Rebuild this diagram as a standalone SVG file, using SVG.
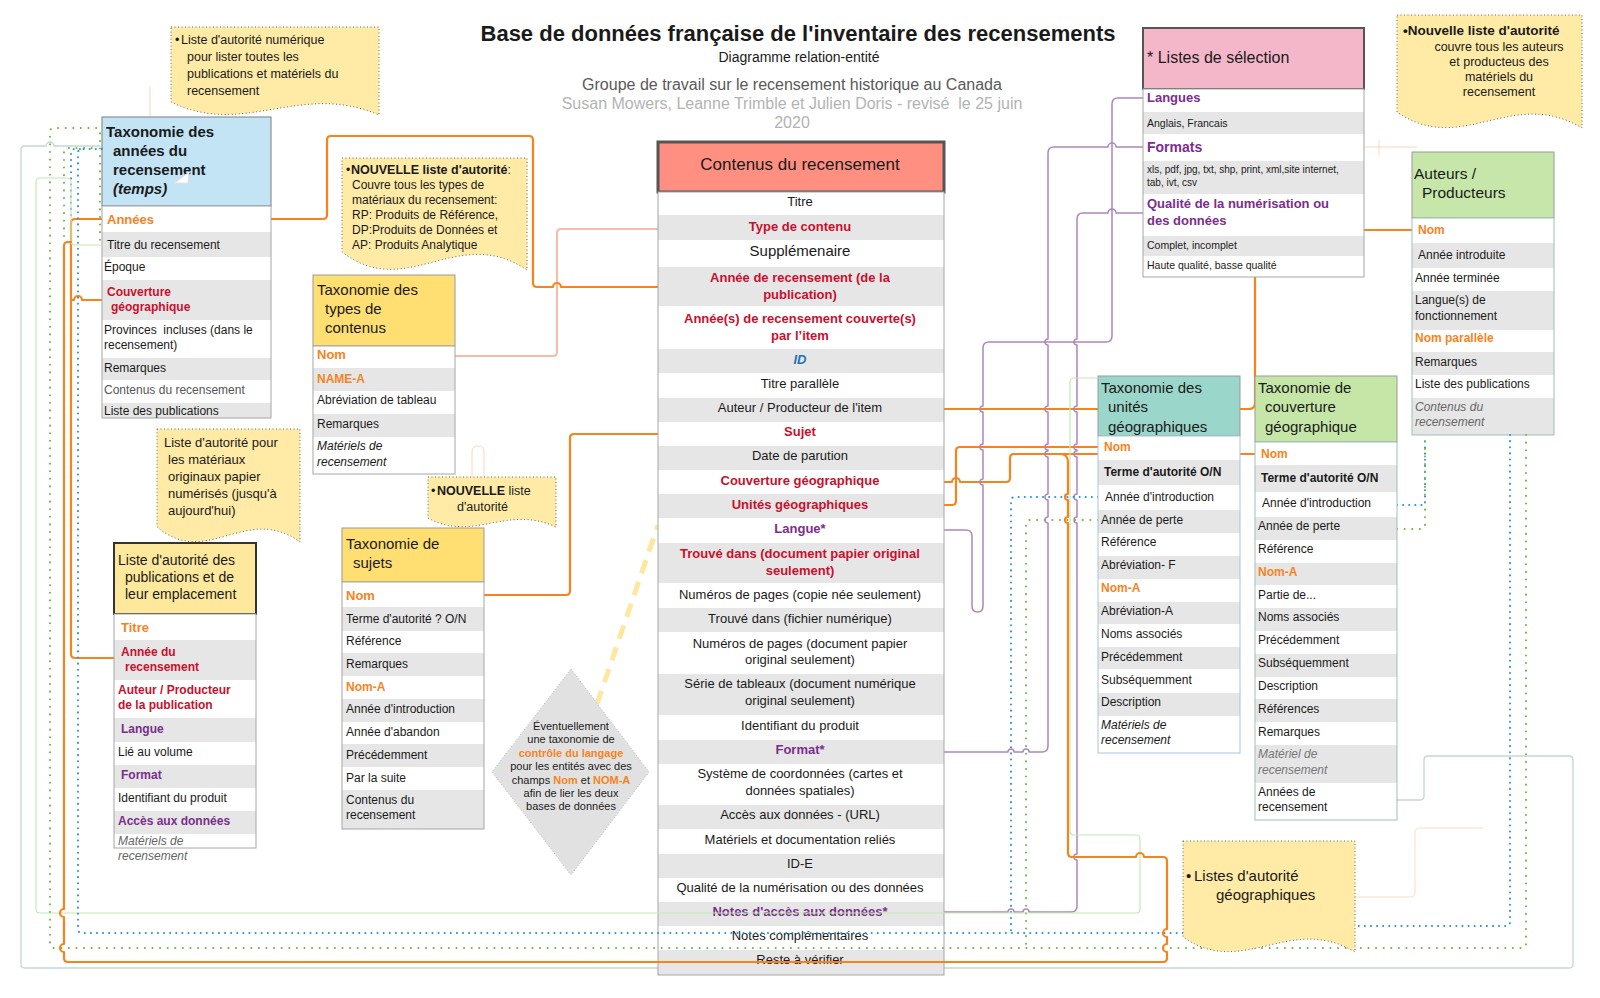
<svg xmlns="http://www.w3.org/2000/svg" width="1600" height="998" viewBox="0 0 1600 998">
<defs>
<style>
text{font-family:"Liberation Sans",Arial,sans-serif;fill:#1a1a1a;font-size:12px}
.s11{font-size:11.5px}
.s13{font-size:13px}
.s15{font-size:15px}
.mid{text-anchor:middle}
.b{font-weight:bold}
.it{font-style:italic}
.or{fill:#f5841f;font-weight:bold}
.rd{fill:#c8102e;font-weight:bold}
.pu{fill:#7b2d8e;font-weight:bold}
.muted{fill:#666;font-style:italic}
.band{fill:#e6e6e6}
.bg{fill:#fff}
.frame{fill:none;stroke:#a6a6a6;stroke-width:1}
.note{fill:#ffeaa6;stroke:#666;stroke-width:1;stroke-dasharray:1 2.5}
.ln{fill:none;stroke-linejoin:round;stroke-linecap:round}
.org{stroke:#f5841f;stroke-width:2.2}
.sal{stroke:#f5bca9;stroke-width:2}
.pur{stroke:#ad87bd;stroke-width:1.5}
.blu{stroke:#2b8fd9;stroke-width:2;stroke-dasharray:0.1 6}
.grn{stroke:#72b53c;stroke-width:2;stroke-dasharray:0.1 7.5}
.lgr{stroke:#c3e8b4;stroke-width:1.2}
.lgy{stroke:#c5d6d2;stroke-width:1.3}
.fnt{stroke:#f9d6bd;stroke-width:1}
</style>
</defs>
<rect width="1600" height="998" fill="#fff"/>

<!-- title block -->
<g id="title">
<text x="798" y="41" class="mid b" style="font-size:22px">Base de données française de l'inventaire des recensements</text>
<text x="799" y="62" class="mid" style="font-size:14px">Diagramme relation-entité</text>
<text x="792" y="90" class="mid" style="fill:#595959;font-size:16px">Groupe de travail sur le recensement historique au Canada</text>
<text x="792" y="109" class="mid" style="fill:#b3b3b3;font-size:16px" xml:space="preserve">Susan Mowers, Leanne Trimble et Julien Doris - revisé  le 25 juin</text>
<text x="792" y="128" class="mid" style="fill:#b3b3b3;font-size:16px">2020</text>
</g>

<!-- connectors drawn beneath the tables -->
<g id="connectors">
<path class="ln fnt" d="M150,87 V117"/>
<path class="ln fnt" d="M1364,147 H1417 M1379,140 V155"/>
<path class="ln fnt" stroke-dasharray="1 1" d="M1355,897 H1410 Q1415,897 1415,892 V833 Q1415,828 1420,828 H1483"/>
<path class="ln fnt" d="M472,477 V452 Q472,446 478,446 Q484,446 484,452 V477"/>
<path class="ln lgy" d="M1397,800 H1420 Q1424,800 1424,796 V760 Q1424,756 1428,756 H1569 Q1573,756 1573,760 V964 Q1573,968 1569,968 H25 Q21,968 21,964 V150 Q21,146 25,146 H46 A4,4 0 0 1 54,146 H100"/>
<path class="ln sal" d="M455,356 H553 Q557,356 557,352 V233 Q557,229 561,229 H658"/>
<path class="ln org" d="M271,219 H323 Q327,219 327,215 V140 Q327,136 331,136 H529 Q533,136 533,140 V283 Q533,287 537,287 H553 A4,4 0 0 1 561,287 H658"/>
<path class="ln org" d="M484,595 H566 Q570,595 570,591 V438 Q570,434 574,434 H658"/>
<path class="ln org" d="M102,219 H75 Q71,219 71,223 V654 Q71,658 75,658 H114"/>
<path class="ln org" d="M102,300 H82 A4,4 0 0 0 74,300 H71"/>
<path class="ln org" d="M944,409 H1249 Q1255,409 1255,403 V234 Q1255,230 1259,230 H1412"/>
<path class="ln org" d="M944,505 H952 Q956,505 956,501 V451 Q956,447 960,447 H1098"/>
<path class="ln org" d="M944,482 H952 A4,4 0 0 1 960,482 H1006 Q1010,482 1010,478 V458 Q1010,454 1014,454 H1255"/>
<path class="ln pur" d="M944,530 H966 Q972,530 972,536 V606 Q972,612 977.5,612 Q983,612 983,606 V485 A3,3 0 0 1 983,479 V450 A3,3 0 0 1 983,444 V412 A3,3 0 0 1 983,406 V348 Q983,342 989,342 H1106 Q1112,342 1112,336 V104 Q1112,98 1118,98 H1143"/>
<path class="ln pur" d="M1143,147 H1116 A4,4 0 0 0 1108,147 H1054 Q1048,147 1048,153 V339 A3,3 0 0 0 1048,345 V406 A3,3 0 0 0 1048,412 V444 A3,3 0 0 0 1048,450 V451 A3,3 0 0 0 1048,457 V494 A3,3 0 0 0 1048,500 V517 A3,3 0 0 0 1048,523 V746 Q1048,752 1042,752 H1029 A3,3 0 0 0 1023,752 H1014 A3,3 0 0 0 1008,752 H944"/>
<path class="ln pur" d="M1143,213 H1116 A4,4 0 0 0 1108,213 H1083 Q1077,213 1077,219 V339 A3,3 0 0 0 1077,345 V406 A3,3 0 0 0 1077,412 V444 A3,3 0 0 0 1077,450 V451 A3,3 0 0 0 1077,457 V494 A3,3 0 0 0 1077,500 V517 A3,3 0 0 0 1077,523 V854 A3,3 0 0 0 1077,860 V906 Q1077,912 1071,912 H1029 A3,3 0 0 0 1023,912 H1014 A3,3 0 0 0 1008,912 H944"/>
<path class="ln blu" d="M1098,497 H1015 Q1011,497 1011,501 V933"/>
<path class="ln blu" d="M1397,505 H1425 V440"/>
<path class="ln blu" d="M71,215 V153 Q71,149 75,149 H80"/>
<path class="ln grn" d="M1098,520 H1030 Q1026,520 1026,524 V948"/>
<path class="ln grn" d="M1397,529 H1421 Q1425,529 1425,525 V440"/>
<path class="ln grn" d="M64,236 V152 Q64,148 68,148 H98"/>
<path stroke="#ffe7a0" stroke-width="5" stroke-dasharray="14 9" fill="none" d="M597,704 L658,525"/>
</g>

<!-- note: numeric authority list -->
<g id="note-liste-numerique">
<path class="note" d="M171,27 H379 V115 C300,81 244,138 171,102 Z"/>
<text style="font-size:12.5px"><tspan x="175" y="44">•</tspan><tspan x="181" y="44">Liste d'autorité numérique</tspan><tspan x="187" y="61">pour lister toutes les</tspan><tspan x="187" y="78">publications et matériels du</tspan><tspan x="187" y="95">recensement</tspan></text>
</g>

<!-- census years taxonomy -->
<g id="taxo-annees">
<rect x="102" y="117" width="169" height="89" fill="#c3e4f5" stroke="#7f7f7f"/>
<text class="b s15"><tspan x="106" y="137">Taxonomie des</tspan><tspan x="113" y="156">années du</tspan><tspan x="113" y="175">recensement</tspan><tspan x="113" y="194" font-style="italic">(temps)</tspan></text>
<polygon points="175,183 189,172 188,183" fill="#fff" stroke="#e3e3e3"/>
<rect class="bg" x="102" y="206" width="169" height="212"/>
<rect class="band" x="102" y="232" width="169" height="25"/>
<rect class="band" x="102" y="280" width="169" height="40"/>
<rect class="band" x="102" y="358" width="169" height="22"/>
<rect class="band" x="102" y="403" width="169" height="15"/>
<rect class="frame" x="102" y="206" width="169" height="212"/>
<text x="107" y="224" class="or s13">Années</text>
<text x="107" y="249">Titre du recensement</text>
<text x="104" y="271">Époque</text>
<text class="rd"><tspan x="107" y="296">Couverture</tspan><tspan x="111" y="311">géographique</tspan></text>
<text xml:space="preserve"><tspan x="104" y="334">Provinces  incluses (dans le</tspan><tspan x="104" y="349">recensement)</tspan></text>
<text x="104" y="372">Remarques</text>
<text x="104" y="394" style="fill:#555">Contenus du recensement</text>
<text x="104" y="415">Liste des publications</text>
</g>

<!-- note: new authority list for content types -->
<g id="note-types">
<path class="note" d="M342,158 H527 V270 C457,223 407,302 342,252 Z"/>
<text><tspan x="346" y="174">•</tspan><tspan x="351" y="174" class="b" style="font-size:12.5px">NOUVELLE liste d'autorité</tspan><tspan>:</tspan><tspan x="352" y="189">Couvre tous les types de</tspan><tspan x="352" y="204">matériaux du recensement:</tspan><tspan x="352" y="219">RP: Produits de Référence,</tspan><tspan x="352" y="234">DP:Produits de Données et</tspan><tspan x="352" y="249">AP: Produits Analytique</tspan></text>
</g>

<!-- content types taxonomy -->
<g id="taxo-types">
<rect x="313" y="275" width="142" height="71" fill="#ffdf71" stroke="#9a9a9a"/>
<text class="s15"><tspan x="317" y="295">Taxonomie des</tspan><tspan x="325" y="314">types de</tspan><tspan x="325" y="333">contenus</tspan></text>
<rect class="bg" x="313" y="346" width="142" height="128"/>
<rect class="band" x="313" y="368" width="142" height="23"/>
<rect class="band" x="313" y="414" width="142" height="23"/>
<rect class="frame" x="313" y="346" width="142" height="128"/>
<text x="317" y="359" class="or s13">Nom</text>
<text x="317" y="383" class="or">NAME-A</text>
<text x="317" y="404">Abréviation de tableau</text>
<text x="317" y="428">Remarques</text>
<text class="it"><tspan x="317" y="450">Matériels de</tspan><tspan x="317" y="466">recensement</tspan></text>
</g>

<!-- note: digitised paper originals -->
<g id="note-papier">
<path class="note" d="M157,429 H300 V542 C246,503 207,569 157,527 Z"/>
<text class="s13"><tspan x="164" y="447">Liste d'autorité pour</tspan><tspan x="168" y="464">les matériaux</tspan><tspan x="168" y="481">originaux papier</tspan><tspan x="168" y="498">numérisés (jusqu'à</tspan><tspan x="168" y="515">aujourd'hui)</tspan></text>
</g>

<!-- publications authority list -->
<g id="liste-publications">
<rect x="114" y="543" width="142" height="71" fill="#fee89c" stroke="#333" stroke-width="2"/>
<text style="font-size:14px"><tspan x="118" y="565">Liste d'autorité des</tspan><tspan x="125" y="582">publications et de</tspan><tspan x="125" y="599">leur emplacement</tspan></text>
<rect class="bg" x="114" y="614" width="142" height="234"/>
<rect class="band" x="114" y="640" width="142" height="40"/>
<rect class="band" x="114" y="718" width="142" height="24"/>
<rect class="band" x="114" y="765" width="142" height="23"/>
<rect class="band" x="114" y="811" width="142" height="23"/>
<rect class="frame" x="114" y="614" width="142" height="234"/>
<text x="121" y="632" class="or s13">Titre</text>
<text class="rd"><tspan x="121" y="656">Année du</tspan><tspan x="125" y="671">recensement</tspan></text>
<text class="rd"><tspan x="118" y="694">Auteur / Producteur</tspan><tspan x="118" y="709">de la publication</tspan></text>
<text x="121" y="733" class="pu">Langue</text>
<text x="118" y="756">Lié au volume</text>
<text x="121" y="779" class="pu">Format</text>
<text x="118" y="802">Identifiant du produit</text>
<text x="118" y="825" class="pu">Accès aux données</text>
<text class="muted"><tspan x="118" y="845">Matériels de</tspan><tspan x="118" y="860">recensement</tspan></text>
</g>

<!-- note: new authority list for subjects -->
<g id="note-sujets">
<path class="note" d="M428,477 H556 V527 C507,504 473,543 428,518 Z"/>
<text style="font-size:12.5px"><tspan x="431" y="495">•</tspan><tspan x="437" y="495" class="b">NOUVELLE</tspan><tspan> liste</tspan><tspan x="457" y="511">d'autorité</tspan></text>
</g>

<!-- subjects taxonomy -->
<g id="taxo-sujets">
<rect x="342" y="528" width="142" height="54" fill="#ffdf71" stroke="#9a9a9a"/>
<text class="s15"><tspan x="346" y="549">Taxonomie de</tspan><tspan x="353" y="568">sujets</tspan></text>
<rect class="bg" x="342" y="582" width="142" height="247"/>
<rect class="band" x="342" y="607" width="142" height="24"/>
<rect class="band" x="342" y="653" width="142" height="23"/>
<rect class="band" x="342" y="699" width="142" height="23"/>
<rect class="band" x="342" y="744" width="142" height="23"/>
<rect class="band" x="342" y="790" width="142" height="39"/>
<rect class="frame" x="342" y="582" width="142" height="247"/>
<text x="346" y="600" class="or s13">Nom</text>
<text x="346" y="623">Terme d'autorité ? O/N</text>
<text x="346" y="645">Référence</text>
<text x="346" y="668">Remarques</text>
<text x="346" y="691" class="or">Nom-A</text>
<text x="346" y="713">Année d'introduction</text>
<text x="346" y="736">Année d'abandon</text>
<text x="346" y="759">Précédemment</text>
<text x="346" y="782">Par la suite</text>
<text><tspan x="346" y="804">Contenus du</tspan><tspan x="346" y="819">recensement</tspan></text>
</g>

<!-- language control remark -->
<g id="controle-langage">
<polygon points="571,669 649,772 571,875 492,772" fill="#e1e1e1" stroke="#b5b5b5" stroke-dasharray="1 2"/>
<text class="mid" style="font-size:11px"><tspan x="571" y="730">Éventuellement</tspan><tspan x="571" y="743">une taxonomie de</tspan><tspan x="571" y="757" class="or">contrôle du langage</tspan><tspan x="571" y="770">pour les entités avec des</tspan><tspan x="571" y="784">champs <tspan class="or">Nom</tspan> et <tspan class="or">NOM-A</tspan></tspan><tspan x="571" y="797">afin de lier les deux</tspan><tspan x="571" y="810">bases de données</tspan></text>
</g>

<!-- central entity -->
<g id="contenus-recensement">
<rect x="658" y="142" width="286" height="50" fill="#ff8f80" stroke="#555" stroke-width="3"/>
<text x="800" y="170" class="mid" style="font-size:17px">Contenus du recensement</text>
<rect class="bg" x="658" y="192" width="286" height="783"/>
<rect class="band" x="658" y="215" width="286" height="25"/>
<rect class="band" x="658" y="267" width="286" height="39"/>
<rect class="band" x="658" y="349" width="286" height="24"/>
<rect class="band" x="658" y="398" width="286" height="24"/>
<rect class="band" x="658" y="446" width="286" height="24"/>
<rect class="band" x="658" y="494" width="286" height="24"/>
<rect class="band" x="658" y="543" width="286" height="40"/>
<rect class="band" x="658" y="608" width="286" height="24"/>
<rect class="band" x="658" y="674" width="286" height="41"/>
<rect class="band" x="658" y="740" width="286" height="24"/>
<rect class="band" x="658" y="805" width="286" height="24"/>
<rect class="band" x="658" y="854" width="286" height="24"/>
<rect class="band" x="658" y="902" width="286" height="24"/>
<rect class="band" x="658" y="950" width="286" height="25"/>
<rect class="frame" x="658" y="192" width="286" height="783"/>
<text x="800" y="206" class="mid s13">Titre</text>
<text x="800" y="231" class="mid s13 rd">Type de contenu</text>
<text x="800" y="256" class="mid s15">Supplémenaire</text>
<text class="mid s13 rd"><tspan x="800" y="282">Année de recensement (de la</tspan><tspan x="800" y="299">publication)</tspan></text>
<text class="mid s13 rd"><tspan x="800" y="323">Année(s) de recensement couverte(s)</tspan><tspan x="800" y="340">par l’item</tspan></text>
<text x="800" y="364" class="mid s13 b it" style="fill:#2472b8">ID</text>
<text x="800" y="388" class="mid s13">Titre parallèle</text>
<text x="800" y="412" class="mid s13">Auteur / Producteur de l'item</text>
<text x="800" y="436" class="mid s13 rd">Sujet</text>
<text x="800" y="460" class="mid s13">Date de parution</text>
<text x="800" y="485" class="mid s13 rd">Couverture géographique</text>
<text x="800" y="509" class="mid s13 rd">Unités géographiques</text>
<text x="800" y="533" class="mid s13 pu">Langue*</text>
<text class="mid s13 rd"><tspan x="800" y="558">Trouvé dans (document papier original</tspan><tspan x="800" y="575">seulement)</tspan></text>
<text x="800" y="599" class="mid s13">Numéros de pages (copie née seulement)</text>
<text x="800" y="623" class="mid s13">Trouvé dans (fichier numérique)</text>
<text class="mid s13"><tspan x="800" y="648">Numéros de pages (document papier</tspan><tspan x="800" y="664">original seulement)</tspan></text>
<text class="mid s13"><tspan x="800" y="688">Série de tableaux (document numérique</tspan><tspan x="800" y="705">original seulement)</tspan></text>
<text x="800" y="730" class="mid s13">Identifiant du produit</text>
<text x="800" y="754" class="mid s13 pu">Format*</text>
<text class="mid s13"><tspan x="800" y="778">Système de coordonnées (cartes et</tspan><tspan x="800" y="795">données spatiales)</tspan></text>
<text x="800" y="819" class="mid s13">Accès aux données - (URL)</text>
<text x="800" y="844" class="mid s13">Matériels et documentation reliés</text>
<text x="800" y="868" class="mid s13">ID-E</text>
<text x="800" y="892" class="mid s13">Qualité de la numérisation ou des données</text>
<text x="800" y="916" class="mid s13 pu">Notes d'accès aux données*</text>
<text x="800" y="940" class="mid s13">Notes complémentaires</text>
<text x="800" y="964" class="mid s13">Reste à vérifier</text>
</g>

<!-- pick lists -->
<g id="listes-selection">
<rect x="1143" y="28" width="221" height="61" fill="#f4b7c9" stroke="#555" stroke-width="2"/>
<text x="1147" y="63" style="font-size:16px">* Listes de sélection</text>
<rect class="bg" x="1143" y="89" width="221" height="188"/>
<rect class="band" x="1143" y="112" width="221" height="22"/>
<rect class="band" x="1143" y="161" width="221" height="33"/>
<rect class="band" x="1143" y="236" width="221" height="20"/>
<rect class="frame" x="1143" y="89" width="221" height="188"/>
<text x="1147" y="102" class="pu s13">Langues</text>
<text x="1147" y="127" style="font-size:10.5px">Anglais, Francais</text>
<text x="1147" y="152" class="pu" style="font-size:14px">Formats</text>
<text style="font-size:10px"><tspan x="1147" y="173">xls, pdf, jpg, txt, shp, print, xml,site internet,</tspan><tspan x="1147" y="186">tab, ivt, csv</tspan></text>
<text class="pu s13"><tspan x="1147" y="208">Qualité de la numérisation ou</tspan><tspan x="1147" y="225">des données</tspan></text>
<text x="1147" y="249" style="font-size:10.5px">Complet, incomplet</text>
<text x="1147" y="269" style="font-size:10.5px">Haute qualité, basse qualité</text>
</g>

<!-- note: authors authority list -->
<g id="note-auteurs">
<path class="note" d="M1397,15 H1582 V128 C1512,86 1462,157 1397,112 Z"/>
<text x="1403" y="35" class="b" style="font-size:13.5px">•Nouvelle liste d'autorité</text>
<text class="mid" style="font-size:12.5px"><tspan x="1499" y="51">couvre tous les auteurs</tspan><tspan x="1499" y="66">et producteus des</tspan><tspan x="1499" y="81">matériels du</tspan><tspan x="1499" y="96">recensement</tspan></text>
</g>

<!-- authors / producers -->
<g id="auteurs-producteurs">
<rect x="1412" y="152" width="142" height="66" fill="#c7e6a9" stroke="#9a9a9a"/>
<text style="font-size:15.5px"><tspan x="1414" y="179">Auteurs /</tspan><tspan x="1422" y="198">Producteurs</tspan></text>
<rect class="bg" x="1412" y="218" width="142" height="217"/>
<rect class="band" x="1412" y="243" width="142" height="25"/>
<rect class="band" x="1412" y="291" width="142" height="39"/>
<rect class="band" x="1412" y="352" width="142" height="23"/>
<rect class="band" x="1412" y="398" width="142" height="37"/>
<rect class="frame" x="1412" y="218" width="142" height="217" style="stroke:#9fbfb8"/>
<text x="1418" y="234" class="or">Nom</text>
<text x="1418" y="259">Année introduite</text>
<text x="1415" y="282">Année terminée</text>
<text><tspan x="1415" y="304">Langue(s) de</tspan><tspan x="1415" y="320">fonctionnement</tspan></text>
<text x="1415" y="342" class="or">Nom parallèle</text>
<text x="1415" y="366">Remarques</text>
<text x="1415" y="388">Liste des publications</text>
<text class="muted"><tspan x="1415" y="411">Contenus du</tspan><tspan x="1415" y="426">recensement</tspan></text>
</g>

<!-- geographic units taxonomy -->
<g id="taxo-unites-geo">
<rect x="1098" y="376" width="142" height="60" fill="#9ad6c9" stroke="#9a9a9a"/>
<text class="s15"><tspan x="1101" y="393">Taxonomie des</tspan><tspan x="1108" y="412">unités</tspan><tspan x="1108" y="432">géographiques</tspan></text>
<rect class="bg" x="1098" y="436" width="142" height="317"/>
<rect class="band" x="1098" y="460" width="142" height="25"/>
<rect class="band" x="1098" y="510" width="142" height="23"/>
<rect class="band" x="1098" y="556" width="142" height="23"/>
<rect class="band" x="1098" y="602" width="142" height="22"/>
<rect class="band" x="1098" y="647" width="142" height="22"/>
<rect class="band" x="1098" y="693" width="142" height="23"/>
<rect class="frame" x="1098" y="436" width="142" height="317" style="stroke:#a9c4de"/>
<text x="1104" y="451" class="or">Nom</text>
<text x="1104" y="476" class="b">Terme d'autorité O/N</text>
<text x="1105" y="501">Année d'introduction</text>
<text x="1101" y="524">Année de perte</text>
<text x="1101" y="546">Référence</text>
<text x="1101" y="569">Abréviation- F</text>
<text x="1101" y="592" class="or">Nom-A</text>
<text x="1101" y="615">Abréviation-A</text>
<text x="1101" y="638">Noms associés</text>
<text x="1101" y="661">Précédemment</text>
<text x="1101" y="684">Subséquemment</text>
<text x="1101" y="706">Description</text>
<text class="it"><tspan x="1101" y="729">Matériels de</tspan><tspan x="1101" y="744">recensement</tspan></text>
</g>

<!-- geographic coverage taxonomy -->
<g id="taxo-couverture-geo">
<rect x="1255" y="376" width="142" height="66" fill="#c6e6a8" stroke="#9a9a9a"/>
<text class="s15"><tspan x="1258" y="393">Taxonomie de</tspan><tspan x="1265" y="412">couverture</tspan><tspan x="1265" y="432">géographique</tspan></text>
<rect class="bg" x="1255" y="442" width="142" height="378"/>
<rect class="band" x="1255" y="465" width="142" height="27"/>
<rect class="band" x="1255" y="517" width="142" height="23"/>
<rect class="band" x="1255" y="563" width="142" height="22"/>
<rect class="band" x="1255" y="608" width="142" height="23"/>
<rect class="band" x="1255" y="654" width="142" height="23"/>
<rect class="band" x="1255" y="699" width="142" height="23"/>
<rect class="band" x="1255" y="745" width="142" height="38"/>
<rect class="frame" x="1255" y="442" width="142" height="378" style="stroke:#9fbfb8"/>
<text x="1261" y="458" class="or">Nom</text>
<text x="1261" y="482" class="b">Terme d'autorité O/N</text>
<text x="1262" y="507">Année d'introduction</text>
<text x="1258" y="530">Année de perte</text>
<text x="1258" y="553">Référence</text>
<text x="1258" y="576" class="or">Nom-A</text>
<text x="1258" y="599">Partie de...</text>
<text x="1258" y="621">Noms associés</text>
<text x="1258" y="644">Précédemment</text>
<text x="1258" y="667">Subséquemment</text>
<text x="1258" y="690">Description</text>
<text x="1258" y="713">Références</text>
<text x="1258" y="736">Remarques</text>
<text style="fill:#777" class="it"><tspan x="1258" y="758">Matériel de</tspan><tspan x="1258" y="774">recensement</tspan></text>
<text><tspan x="1258" y="796">Années de</tspan><tspan x="1258" y="811">recensement</tspan></text>
</g>

<!-- connectors drawn over the tables -->
<g id="connectors-front">
<path class="ln lgr" d="M102,245 H75 Q71,245 71,241 V182 Q71,178 67,178 H40 Q36,178 36,182 V909 Q36,913 40,913 H1136 Q1140,913 1140,909 V839 Q1140,835 1136,835 H1074 Q1070,835 1070,831 V382 Q1070,378 1074,378 H1098"/>
<path class="ln blu" d="M1510,435 V922 Q1510,926 1506,926 H1270 V933 H82 Q78,933 78,929 V153 Q78,149 82,149 H102"/>
<path class="ln grn" d="M1526,435 V944 Q1526,948 1522,948 H54 Q50,948 50,944 V132 Q50,128 54,128 H96 Q100,128 100,132 V240"/>
<path class="ln org" d="M1060,454 Q1068,454 1068,462 V494 A3,3 0 0 0 1068,500 V517 A3,3 0 0 0 1068,523 V853 Q1068,857 1072,857 H1136 A4,4 0 0 1 1144,857 H1163 Q1167,857 1167,861 V929 A4,4 0 0 0 1167,937 V944 A4,4 0 0 0 1167,952 V958 Q1167,962 1163,962 H68 Q64,962 64,958 V952 A4,4 0 0 1 64,944 V917 A4,4 0 0 1 64,909 V246 Q64,242 68,242 H71"/>
</g>

<!-- note: geographic authority lists -->
<g id="note-geo">
<path class="note" d="M1183,841 H1355 V952 C1290,913 1243,979 1183,937 Z"/>
<text style="font-size:15px"><tspan x="1186" y="881">•</tspan><tspan x="1194" y="881">Listes d'autorité</tspan><tspan x="1216" y="900">géographiques</tspan></text>
</g>
</svg>
